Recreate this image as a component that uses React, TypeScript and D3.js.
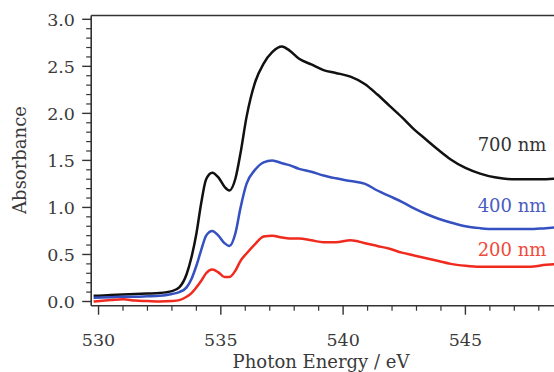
import React from "react";
import * as d3 from "d3";

const energies = [529.8, 530.5, 531, 531.5, 532, 532.5, 533, 533.3, 533.6, 533.8, 534.0, 534.2, 534.4, 534.65, 534.9, 535.15, 535.35, 535.6, 535.8, 536.05, 536.4, 536.75, 537.1, 537.5, 537.8, 538.2, 538.7, 539.2, 539.7, 540.3, 540.9, 541.4, 541.9, 542.4, 542.9, 543.4, 543.9, 544.4, 545.0, 545.6, 546.2, 546.9, 547.6, 548.3, 549.0, 550.0];

const abs700 = [0.06, 0.07, 0.075, 0.08, 0.085, 0.09, 0.11, 0.15, 0.29, 0.47, 0.72, 1.05, 1.30, 1.37, 1.32, 1.22, 1.18, 1.31, 1.57, 1.96, 2.33, 2.53, 2.65, 2.71, 2.67, 2.58, 2.52, 2.46, 2.43, 2.39, 2.31, 2.20, 2.08, 1.96, 1.83, 1.72, 1.61, 1.51, 1.42, 1.36, 1.32, 1.30, 1.30, 1.30, 1.31, 1.31];

const abs400 = [0.04, 0.045, 0.05, 0.05, 0.055, 0.06, 0.08, 0.10, 0.15, 0.24, 0.38, 0.55, 0.70, 0.75, 0.70, 0.62, 0.59, 0.73, 0.99, 1.25, 1.40, 1.48, 1.50, 1.47, 1.45, 1.41, 1.38, 1.34, 1.31, 1.28, 1.25, 1.18, 1.12, 1.06, 0.99, 0.93, 0.88, 0.84, 0.80, 0.78, 0.77, 0.77, 0.77, 0.78, 0.79, 0.79];

const abs200 = [0.0, 0.015, 0.025, 0.01, 0.005, 0.0, 0.005, 0.015, 0.05, 0.09, 0.15, 0.22, 0.30, 0.34, 0.31, 0.26, 0.26, 0.33, 0.43, 0.51, 0.61, 0.69, 0.70, 0.68, 0.67, 0.67, 0.65, 0.63, 0.63, 0.65, 0.62, 0.59, 0.56, 0.52, 0.49, 0.46, 0.43, 0.40, 0.38, 0.37, 0.37, 0.37, 0.37, 0.39, 0.40, 0.40];

const seriesNames = ["700 nm", "400 nm", "200 nm"];
const seriesColors = ["#111111", "#3550c0", "#f02a1e"];
const labelColors = ["#333333", "#4a5cc0", "#f04a3c"];

const xMajorTicks = [530, 535, 540, 545];
const yMajorTicks = [0.0, 0.5, 1.0, 1.5, 2.0, 2.5, 3.0];

const W = 554;
const H = 372;
const FONT = '"DejaVu Serif", serif';

export default function App() {
  const x = d3.scaleLinear().domain([529.7, 550]).range([91.2, 587.7]);
  const y = d3.scaleLinear().domain([0, 3]).range([301.5, 19.3]);
  const plotLeft = x(529.7);
  const plotTop = y(3.04);
  const plotBottom = y(-0.045);

  const series = [abs700, abs400, abs200];
  const line = d3
    .line<number>()
    .x((_, i) => x(energies[i]))
    .y((d) => y(d))
    .curve(d3.curveMonotoneX);

  const xMinor = d3.range(530, 551, 1).filter((v) => !xMajorTicks.includes(v));
  const yMinor = d3.range(0, 31, 1).map((v) => v / 10).filter((v) => Math.round(v * 10) % 5 !== 0);

  const labelPos = [
    { e: 545.5, v: 1.6 },
    { e: 545.5, v: 0.95 },
    { e: 545.5, v: 0.48 },
  ];

  const ts = (size: number) => ({ fontFamily: FONT, fontSize: `${size}px` });

  return (
    <svg width={W} height={H} style={{ position: "absolute", left: 0, top: 0, background: "#fff" }}>
      <defs>
        <clipPath id="plot">
          <rect x={plotLeft} y={plotTop} width={W - plotLeft} height={plotBottom - plotTop} />
        </clipPath>
      </defs>
      <g clipPath="url(#plot)">
        {series.map((s, k) => (
          <path key={k} d={line(s) || ""} fill="none" stroke={seriesColors[k]} strokeWidth={2.5} strokeLinejoin="round" />
        ))}
      </g>
      <line x1={plotLeft} x2={W} y1={plotTop} y2={plotTop} stroke="#333" strokeWidth={1.4} />
      <line x1={plotLeft} x2={W} y1={plotBottom} y2={plotBottom} stroke="#333" strokeWidth={1.6} />
      <line x1={plotLeft} x2={plotLeft} y1={plotTop} y2={plotBottom} stroke="#333" strokeWidth={1.6} />
      {xMajorTicks.map((t) => (
        <g key={"xm" + t}>
          <line x1={x(t)} x2={x(t)} y1={plotBottom} y2={plotBottom + 9} stroke="#333" strokeWidth={1.4} />
          <text x={x(t)} y={346} textAnchor="middle" style={ts(17.5)} fill="#3a3a3a">
            {t}
          </text>
        </g>
      ))}
      {xMinor.map((t) => (
        <line key={"xn" + t} x1={x(t)} x2={x(t)} y1={plotBottom} y2={plotBottom + 5} stroke="#333" strokeWidth={1.2} />
      ))}
      {yMajorTicks.map((t) => (
        <g key={"ym" + t}>
          <line x1={plotLeft - 9} x2={plotLeft} y1={y(t)} y2={y(t)} stroke="#333" strokeWidth={1.4} />
          <text x={75} y={y(t)} dy="0.36em" textAnchor="end" style={ts(17.5)} fill="#3a3a3a">
            {t.toFixed(1)}
          </text>
        </g>
      ))}
      {yMinor.map((t) => (
        <line key={"yn" + t} x1={plotLeft - 5} x2={plotLeft} y1={y(t)} y2={y(t)} stroke="#333" strokeWidth={1.2} />
      ))}
      <text transform="translate(26, 160) rotate(-90)" textAnchor="middle" style={ts(18)} fill="#3a3a3a">
        Absorbance
      </text>
      <text x={321} y={368} textAnchor="middle" style={ts(18)} fill="#3a3a3a">
        Photon Energy / eV
      </text>
      {seriesNames.map((n, k) => (
        <text key={n} x={x(labelPos[k].e)} y={y(labelPos[k].v)} style={ts(18)} fill={labelColors[k]}>
          {n}
        </text>
      ))}
    </svg>
  );
}
